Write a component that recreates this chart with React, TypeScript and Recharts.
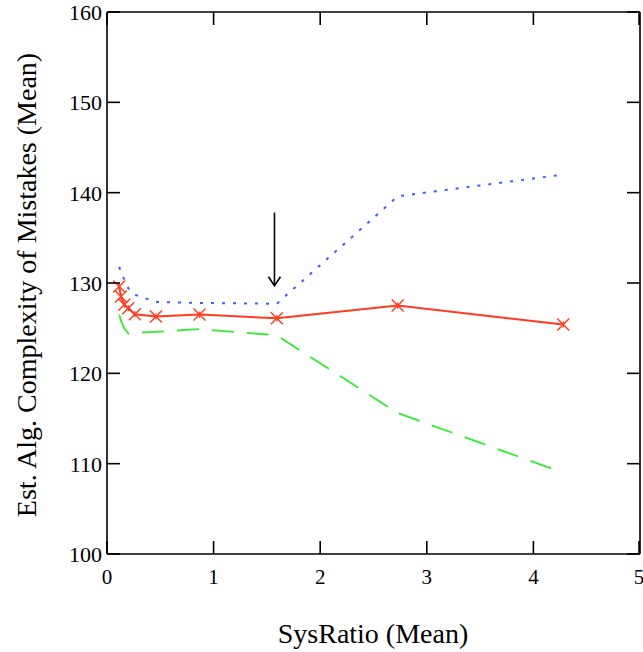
import { LineChart, Line, XAxis, YAxis, ReferenceLine } from "recharts";

// SysRatio (Mean) at each measured point
const sysRatio = [0.115, 0.131, 0.162, 0.2, 0.262, 0.459, 0.868, 1.593, 2.727, 4.28];
// Est. Alg. Complexity of Mistakes (Mean)
const meanSeries = [129.6, 128.5, 127.6, 127.2, 126.55, 126.3, 126.5, 126.1, 127.5, 125.4];
const upperSeries = [131.8, 131.1, 130.4, 129.4, 128.7, 127.9, 127.8, 127.7, 139.6, 142.0];
const lowerSeries = [126.5, 125.8, 125.0, 124.4, 124.5, 124.6, 124.9, 124.2, 115.6, 109.0];

const xTicks = [0, 1, 2, 3, 4, 5];
const yTicks = [100, 110, 120, 130, 140, 150, 160];
const arrowX = 1.571;
const arrowFrom = 137.8;
const arrowTo = 129.7;

const rows = sysRatio.map((x, i) => ({
  x,
  mean: meanSeries[i],
  upper: upperSeries[i],
  lower: lowerSeries[i],
}));

const FONT = "'Liberation Serif', 'Times New Roman', serif";
const RED = "#ff3b1f";
const TICK = 13;
const BOTTOM_GAP = 16;
const LEFT_GAP = 5;

// tick label + inward tick mark (recharts tick lines only point outward)
const BottomTick = (p: any) => {
  const ay = p.y - BOTTOM_GAP;
  return (
    <g>
      <line x1={p.x} y1={ay} x2={p.x} y2={ay - TICK} stroke="#000" strokeWidth={1.6} />
      <text x={p.x} y={p.y + 14} textAnchor="middle" style={{ fontFamily: FONT, fontSize: 21 }} fill="#000">
        {p.payload.value}
      </text>
    </g>
  );
};

const LeftTick = (p: any) => {
  const ax = p.x + LEFT_GAP;
  return (
    <g>
      <line x1={ax} y1={p.y} x2={ax + TICK} y2={p.y} stroke="#000" strokeWidth={1.6} />
      <text x={p.x} y={p.y + 8} textAnchor="end" style={{ fontFamily: FONT, fontSize: 22 }} fill="#000">
        {p.payload.value}
      </text>
    </g>
  );
};

const TopTick = (p: any) => (
  <line x1={p.x} y1={p.y} x2={p.x} y2={p.y + TICK} stroke="#000" strokeWidth={1.6} />
);

const RightTick = (p: any) => (
  <line x1={p.x} y1={p.y} x2={p.x - TICK} y2={p.y} stroke="#000" strokeWidth={1.6} />
);

const Cross = (props: any) => {
  const { cx, cy, index } = props;
  if (cx == null || cy == null) return <g key={`c-${index}`} />;
  const s = 6;
  return (
    <g key={`c-${index}`} stroke={RED} strokeWidth={1.4}>
      <line x1={cx - s} y1={cy - s} x2={cx + s} y2={cy + s} />
      <line x1={cx - s} y1={cy + s} x2={cx + s} y2={cy - s} />
      <line x1={cx} y1={cy - 3} x2={cx} y2={cy + 3} />
    </g>
  );
};

const Arrow = (p: any) => {
  const { x1, y1, x2, y2 } = p;
  return (
    <g stroke="#000" strokeWidth={1.6} fill="none">
      <line x1={x1} y1={y1} x2={x2} y2={y2} />
      <polyline points={`${x2 - 6},${y2 - 9} ${x2},${y2} ${x2 + 6},${y2 - 9}`} />
    </g>
  );
};

const YTitle = () => (
  <text
    x={36}
    y={285}
    transform="rotate(-90 36 285)"
    textAnchor="middle"
    style={{ fontFamily: FONT, fontSize: 28 }}
    fill="#000"
  >
    Est. Alg. Complexity of Mistakes (Mean)
  </text>
);

const XTitle = () => (
  <text x={373} y={643} textAnchor="middle" style={{ fontFamily: FONT, fontSize: 28 }} fill="#000">
    SysRatio (Mean)
  </text>
);

export default function App() {
  return (
    <div style={{ position: "absolute", left: 0, top: 0, background: "#fff" }}>
      <LineChart
        width={643}
        height={652}
        data={rows}
        margin={{ top: 11, right: 2, left: 0, bottom: 0 }}
      >
        <XAxis
          dataKey="x"
          type="number"
          domain={[0, 5]}
          ticks={xTicks}
          height={98}
          tickLine={false}
          tickSize={0}
          tickMargin={BOTTOM_GAP}
          stroke="#000"
          strokeWidth={1.6}
          tick={BottomTick}
          label={{ content: XTitle }}
        />
        {/* frame axes need a non-zero size or recharts skips them */}
        <XAxis
          xAxisId="top"
          dataKey="x"
          orientation="top"
          type="number"
          domain={[0, 5]}
          ticks={xTicks}
          height={1}
          tickLine={false}
          tickSize={0}
          tickMargin={0}
          tick={TopTick}
          stroke="#000"
          strokeWidth={1.6}
        />
        <YAxis
          type="number"
          domain={[100, 160]}
          ticks={yTicks}
          width={107}
          tickLine={false}
          tickSize={0}
          tickMargin={LEFT_GAP}
          stroke="#000"
          strokeWidth={1.6}
          tick={LeftTick}
          label={{ content: YTitle }}
        />
        <YAxis
          yAxisId="right"
          orientation="right"
          type="number"
          domain={[100, 160]}
          ticks={yTicks}
          width={1}
          tickLine={false}
          tickSize={0}
          tickMargin={0}
          tick={RightTick}
          stroke="#000"
          strokeWidth={1.6}
        />
        <Line
          xAxisId="top"
          yAxisId="right"
          dataKey="mean"
          stroke="none"
          dot={false}
          activeDot={false}
          isAnimationActive={false}
        />
        <Line
          dataKey="upper"
          stroke="#3a5cff"
          strokeWidth={2}
          strokeDasharray="3 8"
          dot={false}
          isAnimationActive={false}
        />
        <Line
          dataKey="lower"
          stroke="#2fee2f"
          strokeWidth={1.8}
          strokeDasharray="22 13"
          dot={false}
          isAnimationActive={false}
        />
        <Line
          dataKey="mean"
          stroke={RED}
          strokeWidth={2}
          dot={Cross}
          isAnimationActive={false}
        />
        <ReferenceLine
          segment={[
            { x: arrowX, y: arrowFrom },
            { x: arrowX, y: arrowTo },
          ]}
          shape={Arrow}
        />
      </LineChart>
    </div>
  );
}
